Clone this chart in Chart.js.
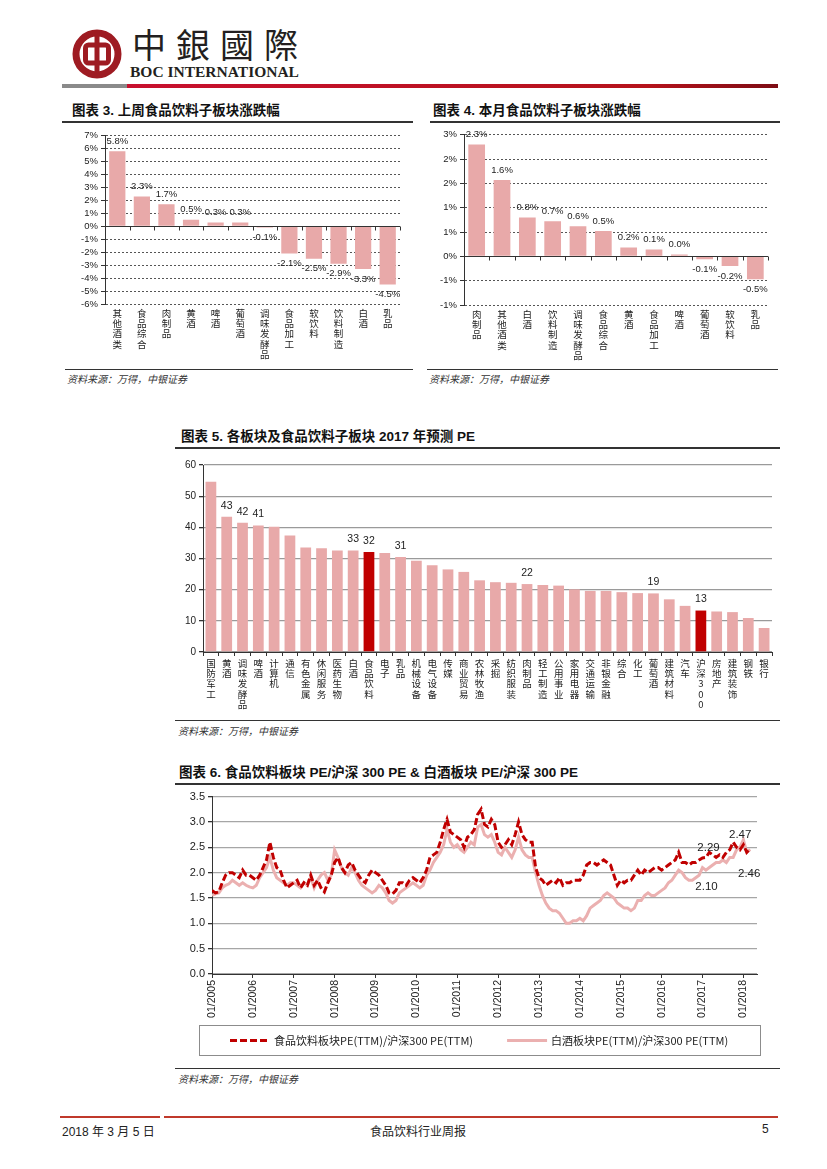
<!DOCTYPE html>
<html><head><meta charset="utf-8">
<script src="https://cdn.jsdelivr.net/npm/chart.js@4.4.1/dist/chart.umd.min.js"></script>
<style>
body{margin:0;background:#fff;width:827px;height:1169px;position:relative;overflow:hidden;font-family:"Liberation Sans","Noto Sans CJK SC",sans-serif;color:#222;}
.abs{position:absolute;white-space:nowrap;}
.title{position:absolute;white-space:nowrap;font-weight:bold;font-size:13.5px;color:#111;font-family:"Liberation Sans","Noto Sans CJK SC",sans-serif;line-height:16px;}
.rule{position:absolute;background:#333;}
.src{position:absolute;white-space:nowrap;font-style:italic;font-size:10px;color:#333;font-family:"Noto Sans CJK SC",sans-serif;line-height:12px;}
canvas{position:absolute;}
</style></head>
<body>
<!-- header -->
<svg class="abs" style="left:72px;top:29px" width="50" height="50" viewBox="0 0 50 50">
  <circle cx="25" cy="25" r="21" fill="none" stroke="#9E1B22" stroke-width="7"/>
  <rect x="13.5" y="16" width="23" height="18" rx="3" fill="none" stroke="#9E1B22" stroke-width="5"/>
  <rect x="22.5" y="3" width="5" height="44" fill="#9E1B22"/>
</svg>
<div class="abs" style="left:132px;top:24px;font-family:'Noto Sans CJK TC';font-size:34px;letter-spacing:10px;color:#231f20;line-height:40px;">中銀國際</div>
<div class="abs" style="left:130px;top:63px;font-family:'Liberation Serif';font-weight:bold;font-size:15.5px;color:#231f20;line-height:18px;">BOC INTERNATIONAL</div>
<div class="abs" style="left:62px;top:84px;width:65px;height:4px;background:#8a8a8a;"></div>
<div class="abs" style="left:127px;top:84px;width:651px;height:4px;background:linear-gradient(90deg,#c8102e 0%,#b5121b 80%,#7d0c14 100%);"></div>

<!-- chart 3 -->
<div class="title" style="left:72px;top:103px;">图表 3. 上周食品饮料子板块涨跌幅</div>
<div class="rule" style="left:62px;top:121px;width:351px;height:2px;"></div>
<canvas id="c3" width="343" height="238" style="left:62px;top:127px;"></canvas>
<div class="rule" style="left:65px;top:369px;width:348px;height:1px;"></div>
<div class="src" style="left:67px;top:373px;">资料来源：万得，中银证券</div>

<!-- chart 4 -->
<div class="title" style="left:433px;top:103px;">图表 4. 本月食品饮料子板块涨跌幅</div>
<div class="rule" style="left:430px;top:121px;width:350px;height:2px;"></div>
<canvas id="c4" width="343" height="240" style="left:430px;top:126px;"></canvas>
<div class="rule" style="left:427px;top:369px;width:351px;height:1px;"></div>
<div class="src" style="left:429px;top:373px;">资料来源：万得，中银证券</div>

<!-- chart 5 -->
<div class="title" style="left:181px;top:429px;">图表 5. 各板块及食品饮料子板块 2017 年预测 PE</div>
<div class="rule" style="left:175px;top:447px;width:605px;height:2px;"></div>
<canvas id="c5" width="602" height="260" style="left:175px;top:456px;"></canvas>
<div class="rule" style="left:175px;top:720px;width:605px;height:1px;"></div>
<div class="src" style="left:178px;top:725px;">资料来源：万得，中银证券</div>

<!-- chart 6 -->
<div class="title" style="left:179px;top:765px;">图表 6. 食品饮料板块 PE/沪深 300 PE &amp; 白酒板块 PE/沪深 300 PE</div>
<div class="rule" style="left:175px;top:783px;width:605px;height:2px;"></div>
<canvas id="c6" width="582" height="276" style="left:180px;top:787px;"></canvas>
<div class="rule" style="left:175px;top:1068px;width:605px;height:1px;"></div>
<div class="src" style="left:178px;top:1073px;">资料来源：万得，中银证券</div>

<!-- footer -->
<div class="abs" style="left:60px;top:1116px;width:100px;height:2px;background:#c0392b;"></div>
<div class="abs" style="left:164px;top:1116px;width:614px;height:2px;background:#c0392b;"></div>
<div class="abs" style="left:62px;top:1122px;font-size:12px;font-family:'Liberation Sans Narrow','Liberation Sans','Noto Sans CJK SC';">2018 年 3 月 5 日</div>
<div class="abs" style="left:368px;top:1122px;width:100px;text-align:center;font-size:12px;font-family:'Noto Sans CJK SC';">食品饮料行业周报</div>
<div class="abs" style="left:762px;top:1122px;font-size:12px;font-family:'Liberation Sans Narrow','Liberation Sans';">5</div>

<script>
// ---------- data ----------
const weekCats = ['其他酒类','食品综合','肉制品','黄酒','啤酒','葡萄酒','调味发酵品','食品加工','软饮料','饮料制造','白酒','乳品'];
const weekChg = [5.8, 2.3, 1.7, 0.5, 0.3, 0.3, -0.1, -2.1, -2.5, -2.9, -3.3, -4.5];

const monthCats = ['肉制品','其他酒类','白酒','饮料制造','调味发酵品','食品综合','黄酒','食品加工','啤酒','葡萄酒','软饮料','乳品'];
const monthChg = [2.3, 1.57, 0.8, 0.72, 0.62, 0.52, 0.18, 0.14, 0.04, -0.06, -0.2, -0.47];

const peCats = ['国防军工','黄酒','调味发酵品','啤酒','计算机','通信','有色金属','休闲服务','医药生物','白酒','食品饮料','电子','乳品','机械设备','电气设备','传媒','商业贸易','农林牧渔','采掘','纺织服装','肉制品','轻工制造','公用事业','家用电器','交通运输','非银金融','综合','化工','葡萄酒','建筑材料','汽车','沪深300','房地产','建筑装饰','钢铁','银行'];
const peVals = [54.6, 43.4, 41.5, 40.6, 40.2, 37.4, 33.5, 33.3, 32.6, 32.6, 32.1, 31.8, 30.5, 29.3, 27.8, 26.5, 25.7, 23.0, 22.4, 22.2, 21.8, 21.5, 21.3, 20.1, 19.6, 19.6, 19.2, 18.9, 18.8, 16.9, 14.8, 13.3, 13.0, 12.8, 10.9, 7.7];
const peLabeled = ['黄酒','调味发酵品','啤酒','白酒','食品饮料','乳品','肉制品','葡萄酒','沪深300'];
const peHighlight = ['食品饮料','沪深300'];

// monthly, Jan 2005 .. Mar 2018
const foodRatio = [
 1.65,1.6,1.62,1.8,1.95,2.0,2.0,1.95,1.9,2.05,1.95,1.95,
 1.9,1.85,1.95,2.1,2.25,2.6,2.3,2.1,2.05,1.85,1.7,1.75,
 1.8,1.85,1.7,1.8,1.75,1.95,1.75,1.85,1.7,1.62,1.8,1.95,
 2.2,2.3,2.1,2.0,2.15,2.2,2.05,1.95,1.85,1.8,1.95,2.05,
 2.0,1.95,1.85,1.75,1.6,1.58,1.65,1.8,1.8,1.75,1.85,1.9,
 1.85,1.8,1.9,2.05,2.3,2.35,2.4,2.6,2.85,3.05,2.8,2.75,
 2.7,2.65,2.5,2.7,2.75,2.85,3.15,3.25,2.95,2.9,3.05,2.95,
 2.6,2.5,2.55,2.65,2.55,2.75,3.0,2.75,2.65,2.6,2.6,2.1,
 1.9,1.85,1.75,1.8,1.85,1.8,1.9,1.75,1.8,1.8,1.85,1.85,
 1.85,1.95,2.15,2.2,2.2,2.15,2.2,2.25,2.2,2.15,1.95,1.75,
 1.85,1.8,1.85,1.85,1.95,2.05,1.95,2.05,2.0,2.05,2.1,2.1,
 2.05,2.1,2.15,2.2,2.25,2.4,2.2,2.2,2.15,2.2,2.2,2.25,
 2.29,2.3,2.4,2.35,2.3,2.35,2.3,2.4,2.45,2.6,2.5,2.45,
 2.55,2.4,2.47];
const baijiuRatio = [
 1.55,1.58,1.6,1.7,1.75,1.78,1.85,1.8,1.75,1.8,1.75,1.72,
 1.7,1.75,1.9,2.0,2.1,2.3,2.05,1.9,1.85,1.8,1.75,1.8,
 1.8,1.75,1.7,1.8,1.75,1.9,1.7,1.85,1.95,2.0,1.85,1.95,
 2.45,2.3,2.1,2.0,1.95,2.1,2.0,1.85,1.75,1.7,1.65,1.6,
 1.65,1.75,1.7,1.6,1.45,1.4,1.45,1.6,1.65,1.7,1.75,1.8,
 1.75,1.7,1.75,1.95,2.05,2.2,2.3,2.4,2.55,2.85,2.6,2.5,
 2.55,2.45,2.4,2.5,2.6,2.55,2.9,2.95,2.75,2.7,2.75,2.6,
 2.4,2.35,2.5,2.4,2.3,2.45,2.7,2.45,2.35,2.3,2.3,2.0,
 1.75,1.55,1.4,1.3,1.25,1.25,1.2,1.1,1.0,1.0,1.05,1.05,
 1.1,1.05,1.15,1.3,1.35,1.4,1.45,1.55,1.6,1.55,1.5,1.4,
 1.35,1.3,1.3,1.25,1.3,1.45,1.45,1.55,1.6,1.55,1.55,1.6,
 1.65,1.7,1.8,1.85,1.95,2.05,2.0,1.9,1.85,1.85,1.9,1.95,
 2.1,2.05,2.1,2.15,2.2,2.2,2.25,2.2,2.3,2.3,2.45,2.5,
 2.65,2.4,2.46];
const yearTicks = ['01/2005','01/2006','01/2007','01/2008','01/2009','01/2010','01/2011','01/2012','01/2013','01/2014','01/2015','01/2016','01/2017','01/2018'];
const seriesNames = ['食品饮料板块PE(TTM)/沪深300 PE(TTM)','白酒板块PE(TTM)/沪深300 PE(TTM)'];

// ---------- styles ----------
const PINK = '#E8A9A9', DARK = '#C00000', AX = '#333';
const CJK = '"Noto Sans CJK SC", sans-serif';
const NUM = '"Liberation Sans", Arial, sans-serif';
const NARROW = '"Liberation Sans Narrow", "Liberation Sans", sans-serif';

function barLabels(cfg){
  return {id:'barLabels', afterDatasetsDraw(chart){
    const ctx = chart.ctx, meta = chart.getDatasetMeta(0), data = chart.data.datasets[0].data, labels = chart.data.labels;
    ctx.save(); ctx.font = cfg.font; ctx.fillStyle = '#222'; ctx.textAlign = 'center'; ctx.textBaseline = 'middle';
    meta.data.forEach((bar,i)=>{
      if (cfg.show && !cfg.show(labels[i])) return;
      const v = data[i];
      ctx.fillText(cfg.format(v), bar.x, v >= 0 ? bar.y - cfg.offset : bar.y + cfg.offset);
    });
    ctx.restore();
  }};
}
const zeroLine = {id:'zeroLine', afterDatasetsDraw(chart){
  const ctx = chart.ctx, x = chart.scales.x, y = chart.scales.y, y0 = Math.round(y.getPixelForValue(0)) + 0.5;
  const n = chart.data.labels.length;
  ctx.save(); ctx.strokeStyle = AX; ctx.lineWidth = 1; ctx.beginPath();
  ctx.moveTo(x.left, y0); ctx.lineTo(x.right, y0);
  for (let i = 1; i <= n; i++){ const px = Math.round(x.getPixelForDecimal(i/n)) + 0.5; ctx.moveTo(px, y0); ctx.lineTo(px, y0 + 4); }
  ctx.stroke(); ctx.restore();
}};
const splitChars = function(v){ return Array.from(this.getLabelForValue(v)); };

function pctBar(id, cats, vals, yMin, yMax, step, yW, tickFmt){
  return new Chart(document.getElementById(id), {
    type:'bar',
    data:{labels:cats, datasets:[{data:vals, backgroundColor:PINK, barPercentage:1, categoryPercentage:0.66}]},
    options:{
      responsive:false, animation:false, events:[],
      layout:{padding:{top:7, right:5}},
      plugins:{legend:{display:false}, tooltip:{enabled:false}},
      scales:{
        x:{grid:{display:false, drawTicks:false}, border:{display:false},
           ticks:{autoSkip:false, maxRotation:0, minRotation:0, padding:4, color:'#222', font:{family:CJK, size:9.5, lineHeight:1.08}, callback:splitChars},
           afterFit(s){ s.height = 61; }},
        y:{min:yMin, max:yMax,
           ticks:{stepSize:step, autoSkip:false, color:'#222', padding:3, font:{family:NUM, size:9.5}, callback:tickFmt},
           grid:{color:'#555', lineWidth:1, drawTicks:true, tickLength:4, tickColor:AX},
           border:{display:true, color:AX, width:1, dash:[2,2]},
           afterFit(s){ s.width = yW; }}
      }
    },
    plugins:[zeroLine, barLabels({font:'9.5px '+NUM, offset:10, format:v=>v.toFixed(1)+'%'})]
  });
}
pctBar('c3', weekCats, weekChg, -6, 7, 1, 43, v => v + '%');
pctBar('c4', monthCats, monthChg, -1, 2.5, 0.5, 34, v => (Math.sign(v) * Math.round(Math.abs(v))) + '%');

// chart 5
new Chart(document.getElementById('c5'), {
  type:'bar',
  data:{labels:peCats, datasets:[{data:peVals, backgroundColor:peCats.map(c => peHighlight.includes(c) ? DARK : PINK), barPercentage:1, categoryPercentage:0.68}]},
  options:{
    responsive:false, animation:false, events:[],
    layout:{padding:{top:7, right:5}},
    plugins:{legend:{display:false}, tooltip:{enabled:false}},
    scales:{
      x:{grid:{display:true, drawOnChartArea:false, drawTicks:true, tickLength:4, color:AX},
         border:{display:true, color:AX, width:1},
         ticks:{autoSkip:false, maxRotation:0, minRotation:0, padding:2, color:'#222', font:{family:CJK, size:9.5, lineHeight:1.08}, callback:splitChars},
         afterFit(s){ s.height = 64; }},
      y:{min:0, max:60, ticks:{stepSize:10, autoSkip:false, color:'#222', padding:3, font:{family:NUM, size:10}},
         grid:{color:'#9a9a9a', lineWidth:1.3, drawTicks:true, tickLength:4, tickColor:AX},
         border:{display:true, color:AX, width:1},
         afterFit(s){ s.width = 28; }}
    }
  },
  plugins:[barLabels({font:'10.5px '+NUM, offset:11, format:v=>String(Math.round(v)), show:c=>peLabeled.includes(c)})]
});

// chart 6
const boxLegend = {id:'boxLegend', afterDraw(chart){
  const ctx = chart.ctx, ca = chart.chartArea, xs = chart.scales.x;
  const top = Math.round(xs.bottom) + 7, h = 30, left = ca.left - 13, right = ca.right + 3;
  ctx.save();
  ctx.strokeStyle = '#8c8c8c'; ctx.lineWidth = 1; ctx.strokeRect(left + 0.5, top + 0.5, right - left, h);
  ctx.font = '11px ' + CJK; ctx.textBaseline = 'middle';
  let x = left + 31; const cy = top + h/2 + 0.5;
  chart.data.datasets.forEach(ds => {
    ctx.strokeStyle = ds.borderColor; ctx.lineWidth = ds.borderWidth; ctx.setLineDash(ds.borderDash || []);
    ctx.beginPath(); ctx.moveTo(x, cy); ctx.lineTo(x + 40, cy); ctx.stroke(); ctx.setLineDash([]);
    ctx.fillStyle = '#222'; ctx.fillText(ds.label, x + 44, cy);
    x += 44 + ctx.measureText(ds.label).width + 34;
  });
  ctx.restore();
}};
const pointNotes = [
  {ds:0, idx:144, dx:6, dy:-10},
  {ds:1, idx:144, dx:4, dy:19},
  {ds:0, idx:158, dx:-10, dy:-14},
  {ds:1, idx:158, dx:-1, dy:25}
];
const notes = {id:'notes', afterDatasetsDraw(chart){
  const ctx = chart.ctx; ctx.save(); ctx.font = '11.5px ' + NARROW; ctx.fillStyle = '#222'; ctx.textAlign = 'center'; ctx.textBaseline = 'middle';
  pointNotes.forEach(n => {
    const p = chart.getDatasetMeta(n.ds).data[n.idx];
    const v = chart.data.datasets[n.ds].data[n.idx].y;
    ctx.fillText(v.toFixed(2), p.x + n.dx, p.y + n.dy);
  });
  ctx.restore();
}};
new Chart(document.getElementById('c6'), {
  type:'line',
  data:{datasets:[
    {label:seriesNames[0], data:foodRatio.map((v,i)=>({x:i, y:v})), borderColor:DARK, borderWidth:3, borderDash:[7,3], pointRadius:0, tension:0, fill:false},
    {label:seriesNames[1], data:baijiuRatio.map((v,i)=>({x:i, y:v})), borderColor:'#EBB0B0', borderWidth:3, pointRadius:0, tension:0, fill:false}
  ]},
  options:{
    responsive:false, animation:false, events:[],
    layout:{padding:{top:7, right:5, bottom:45}},
    plugins:{legend:{display:false}, tooltip:{enabled:false}},
    scales:{
      x:{type:'linear', min:0, max:160,
         afterBuildTicks(s){ s.ticks = yearTicks.map((t,i)=>({value:i*12})); },
         ticks:{autoSkip:false, maxRotation:90, minRotation:90, padding:2, color:'#222', font:{family:NARROW, size:10.5}, callback:(v,i)=>yearTicks[i]},
         grid:{display:true, drawOnChartArea:false, drawTicks:true, tickLength:4, color:AX},
         border:{display:true, color:AX, width:1},
         afterFit(s){ s.height = 44; }},
      y:{min:0, max:3.5, ticks:{stepSize:0.5, autoSkip:false, color:'#222', padding:3, font:{family:NARROW, size:11}, callback:v=>v.toFixed(1)},
         grid:{color:'#a6a6a6', lineWidth:1.3, drawTicks:true, tickLength:4, tickColor:AX},
         border:{display:true, color:AX, width:1},
         afterFit(s){ s.width = 32; }}
    }
  },
  plugins:[notes, boxLegend]
});
</script>
</body></html>
